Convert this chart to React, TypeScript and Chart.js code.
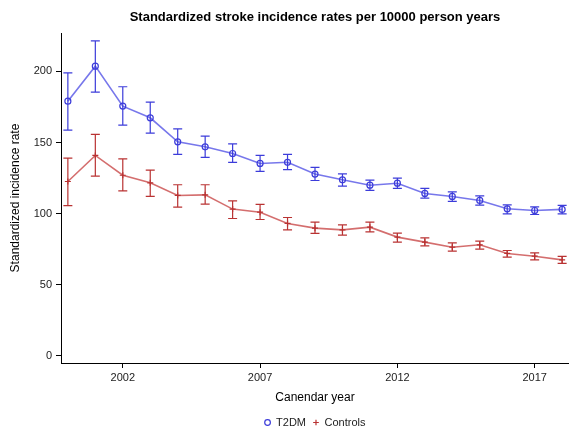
import React, { useEffect, useRef } from "react";
import { Chart, registerables } from "chart.js";

Chart.register(...registerables);

const years = [2000, 2001, 2002, 2003, 2004, 2005, 2006, 2007, 2008, 2009, 2010, 2011, 2012, 2013, 2014, 2015, 2016, 2017, 2018];
const t2dm = [179.1, 203.7, 175.6, 167.4, 150.5, 147.0, 142.3, 135.3, 136.1, 127.8, 123.8, 120.0, 121.4, 114.2, 112.1, 109.3, 103.4, 102.2, 103.0];
const t2dmLow = [158.7, 185.4, 162.2, 156.6, 141.6, 139.5, 136.0, 129.7, 131.0, 123.3, 119.3, 116.3, 117.7, 110.9, 108.6, 106.0, 99.9, 99.4, 99.9];
const t2dmHigh = [199.0, 221.5, 189.2, 178.4, 159.6, 154.5, 149.1, 140.9, 141.6, 132.5, 128.0, 123.6, 125.0, 117.7, 115.3, 112.5, 106.2, 104.8, 105.8];
const controls = [122.6, 140.9, 127.0, 121.7, 112.8, 113.2, 103.2, 101.0, 93.1, 89.8, 88.6, 90.5, 83.5, 80.0, 76.4, 78.1, 72.0, 70.1, 67.5];
const controlsLow = [105.7, 126.4, 116.0, 112.1, 104.6, 106.7, 96.6, 95.9, 88.6, 86.1, 84.9, 87.2, 80.0, 77.4, 73.6, 75.0, 69.4, 67.5, 65.0];
const controlsHigh = [139.0, 155.7, 138.5, 130.6, 120.3, 120.3, 109.0, 106.5, 97.3, 94.0, 92.1, 94.0, 86.3, 83.0, 79.5, 80.7, 74.1, 72.4, 69.9];
const xTicks = [2002, 2007, 2012, 2017];
const yTicks = [0, 50, 100, 150, 200];

const FONT = "'Liberation Sans', Arial, Helvetica, sans-serif";
const BLUE_LINE = "rgba(95,95,232,0.85)";
const BLUE_BAR = "rgb(60,60,218)";
const RED_LINE = "rgba(205,85,85,0.85)";
const RED_BAR = "rgb(185,50,50)";

const errorBars = {
  id: "errorBars",
  afterDatasetsDraw(chart: any) {
    const ctx = chart.ctx;
    const xs = chart.scales.x;
    const ys = chart.scales.y;
    const sets = [
      { lo: t2dmLow, hi: t2dmHigh, color: BLUE_BAR },
      { lo: controlsLow, hi: controlsHigh, color: RED_BAR },
    ];
    ctx.save();
    ctx.lineWidth = 1.2;
    for (const s of sets) {
      ctx.strokeStyle = s.color;
      years.forEach((yr, i) => {
        const x = xs.getPixelForValue(yr);
        const y1 = ys.getPixelForValue(s.lo[i]);
        const y2 = ys.getPixelForValue(s.hi[i]);
        const hw = 4.5;
        ctx.beginPath();
        ctx.moveTo(x, y1);
        ctx.lineTo(x, y2);
        ctx.moveTo(x - hw, y1);
        ctx.lineTo(x + hw, y1);
        ctx.moveTo(x - hw, y2);
        ctx.lineTo(x + hw, y2);
        ctx.stroke();
      });
    }
    ctx.restore();
  },
};

export default function App() {
  const ref = useRef<HTMLCanvasElement | null>(null);
  useEffect(() => {
    document.body.style.margin = "0";
    const canvas = ref.current;
    if (!canvas) return;
    const chart = new Chart(canvas, {
      type: "line",
      data: {
        datasets: [
          {
            label: "T2DM",
            data: years.map((x, i) => ({ x, y: t2dm[i] })),
            borderColor: BLUE_LINE,
            borderWidth: 1.6,
            pointStyle: "circle",
            pointRadius: 3,
            pointBorderWidth: 1.2,
            pointBorderColor: BLUE_BAR,
            pointBackgroundColor: "rgba(255,255,255,0)",
            backgroundColor: "rgba(255,255,255,0)",
            tension: 0,
            clip: false,
          },
          {
            label: "Controls",
            data: years.map((x, i) => ({ x, y: controls[i] })),
            borderColor: RED_LINE,
            borderWidth: 1.6,
            pointStyle: "cross",
            pointRadius: 3,
            pointBorderWidth: 1.2,
            pointBorderColor: RED_BAR,
            pointBackgroundColor: RED_BAR,
            backgroundColor: "rgba(255,255,255,0)",
            tension: 0,
            clip: false,
          },
        ],
      },
      options: {
        responsive: false,
        animation: false,
        layout: { padding: 0, autoPadding: false },
        plugins: {
          title: {
            display: true,
            text: "Standardized stroke incidence rates per 10000 person years",
            fullSize: false,
            color: "#000",
            font: { family: FONT, size: 13, weight: "bold" },
            padding: { top: 10, bottom: 7.4 },
          },
          legend: {
            display: true,
            position: "bottom",
            fullSize: false,
            maxHeight: 20,
            labels: {
              usePointStyle: true,
              boxWidth: 6,
              boxHeight: 4,
              padding: 7,
              color: "#222",
              font: { family: FONT, size: 11 },
            },
          },
          tooltip: { enabled: false },
        },
        scales: {
          x: {
            type: "linear",
            min: 1999.75,
            max: 2018.25,
            afterFit: (s: any) => {
              s.height = 47;
              s.paddingLeft = 0;
              s.paddingRight = 0;
            },
            afterBuildTicks: (s: any) => {
              s.ticks = xTicks.map((v) => ({ value: v }));
            },
            grid: { display: true, drawOnChartArea: false, drawTicks: true, tickLength: 5, color: "#000" },
            border: { display: true, color: "#000", width: 1 },
            ticks: {
              color: "#222",
              padding: 3,
              maxRotation: 0,
              font: { family: FONT, size: 11 },
              callback: (v: any) => String(v),
            },
            title: {
              display: true,
              text: "Canendar year",
              color: "#000",
              font: { family: FONT, size: 12 },
              padding: { top: 4, bottom: 4.8 },
            },
          },
          y: {
            type: "linear",
            min: -5,
            max: 227,
            afterFit: (s: any) => {
              s.width = 61;
              s.paddingTop = 0;
              s.paddingBottom = 0;
            },
            afterBuildTicks: (s: any) => {
              s.ticks = yTicks.map((v) => ({ value: v }));
            },
            grid: { display: true, drawOnChartArea: false, drawTicks: true, tickLength: 5, color: "#000" },
            border: { display: true, color: "#000", width: 1 },
            ticks: {
              color: "#222",
              padding: 4,
              font: { family: FONT, size: 11 },
              callback: (v: any) => String(v),
            },
            title: {
              display: true,
              text: "Standardized incidence rate",
              color: "#000",
              font: { family: FONT, size: 12 },
              padding: { top: 8, bottom: 4 },
            },
          },
        },
      },
      plugins: [errorBars],
    });
    return () => chart.destroy();
  }, []);
  return (
    <div style={{ width: 569, height: 430, background: "#fff" }}>
      <canvas ref={ref} width={569} height={430} style={{ display: "block" }} />
    </div>
  );
}
